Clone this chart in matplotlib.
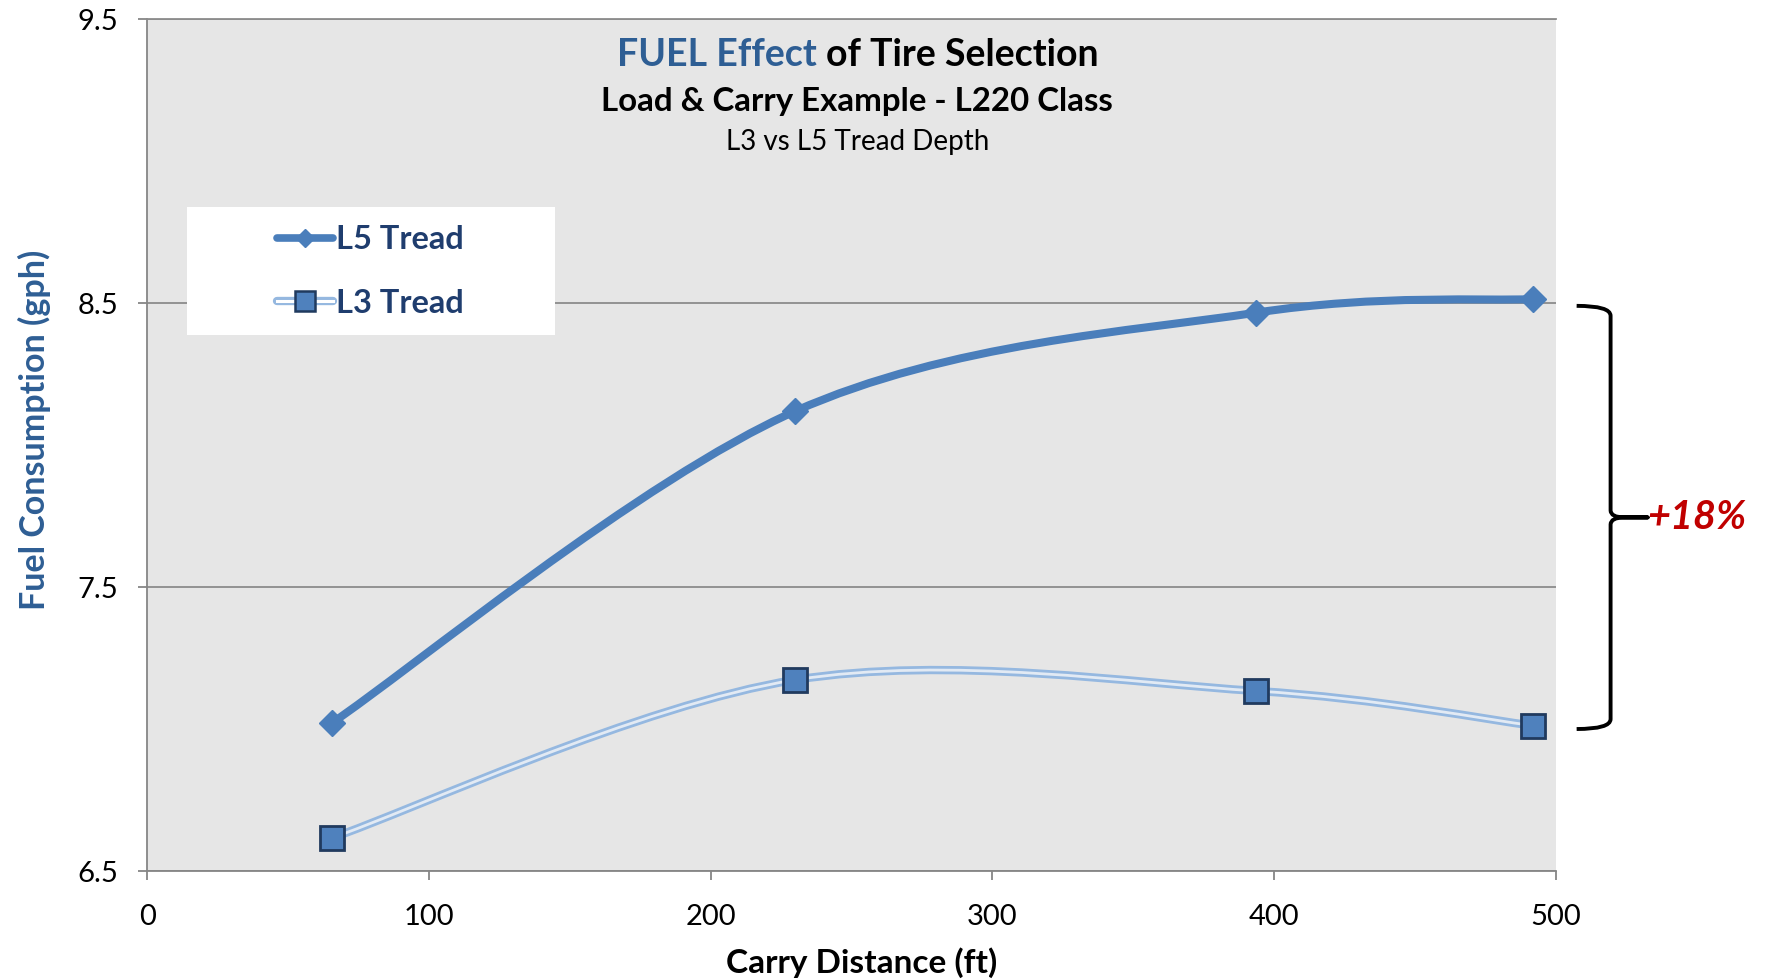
import matplotlib
matplotlib.use('Agg')
import matplotlib.pyplot as plt
import matplotlib.transforms as mtransforms
from matplotlib.path import Path
from matplotlib.patches import PathPatch, Rectangle
from matplotlib.lines import Line2D
from matplotlib.legend_handler import HandlerTuple

# values
distance = [65.7, 230.0, 393.7, 492.0]
l5_tread = [7.022, 8.119, 8.466, 8.514]
l3_tread = [6.617, 7.173, 7.134, 7.012]
series_names = ['L5 Tread', 'L3 Tread']
x_ticks = [0, 100, 200, 300, 400, 500]
y_ticks = [6.5, 7.5, 8.5, 9.5]
increase_label = '+18%'

plt.rcParams['font.family'] = ['Lato', 'DejaVu Sans']

BLUE = '#4A7EBB'
LIGHT = '#95B8E0'
INNER = '#E2EAF4'
SQUARE_EDGE = '#203A5E'
NAVY = '#1F3D6E'
TITLE_BLUE = '#2E5E94'
AXIS_GREY = '#868686'


def smooth_path(x, y):
    # excel style smoothed line (catmull-rom -> cubic bezier)
    pts = list(zip(x, y))
    n = len(pts)
    verts = [pts[0]]
    codes = [Path.MOVETO]
    for i in range(n - 1):
        p0 = pts[max(i - 1, 0)]
        p1 = pts[i]
        p2 = pts[i + 1]
        p3 = pts[min(i + 2, n - 1)]
        c1 = (p1[0] + (p2[0] - p0[0]) / 6, p1[1] + (p2[1] - p0[1]) / 6)
        c2 = (p2[0] - (p3[0] - p1[0]) / 6, p2[1] - (p3[1] - p1[1]) / 6)
        verts += [c1, c2, p2]
        codes += [Path.CURVE4] * 3
    return Path(verts, codes)


fig = plt.figure(figsize=(17.7, 9.8), dpi=100)
ax = fig.add_axes([0.0831, 0.1112, 0.7958, 0.8694])
ax.set_facecolor('#E6E6E6')

# L5: thick solid smoothed line with diamonds
ax.add_patch(PathPatch(smooth_path(distance, l5_tread), fill=False, edgecolor=BLUE,
                       lw=5.8, capstyle='round', joinstyle='round', zorder=2))
ax.plot(distance, l5_tread, ls='none', marker='D', ms=13, color=BLUE, mec=BLUE, zorder=3)

# L3: double line with squares
ax.add_patch(PathPatch(smooth_path(distance, l3_tread), fill=False, edgecolor=LIGHT,
                       lw=6, capstyle='round', zorder=2))
ax.add_patch(PathPatch(smooth_path(distance, l3_tread), fill=False, edgecolor=INNER,
                       lw=2, capstyle='round', zorder=2))
ax.plot(distance, l3_tread, ls='none', marker='s', ms=17, mfc='#4F81BD', mec=SQUARE_EDGE,
        mew=2, zorder=3)

ax.set_xlim(0, 500)
ax.set_ylim(6.5, 9.5)
ax.set_xticks(x_ticks)
ax.set_yticks(y_ticks)
ax.set_yticklabels(['%.1f' % v for v in y_ticks])
ax.yaxis.grid(True, color='#8C8C8C', lw=1.3)
ax.set_axisbelow(True)
for side in ['left', 'bottom', 'top']:
    ax.spines[side].set_color(AXIS_GREY)
    ax.spines[side].set_linewidth(1.3)
ax.spines['top'].set_color('#8C8C8C')
ax.spines['right'].set_visible(False)
ax.tick_params(axis='both', direction='out', length=6.5, width=1.3, color=AXIS_GREY,
               labelsize=21, labelcolor='black')
ax.tick_params(axis='x', pad=17)
ax.tick_params(axis='y', pad=14)

# legend on a white box
ax.add_patch(Rectangle((0.0284, 0.629), 0.2613, 0.1503, transform=ax.transAxes,
                       facecolor='white', edgecolor='none', zorder=5))
h5 = Line2D([], [], color=BLUE, lw=5.5, marker='D', ms=9, solid_capstyle='round')
h3 = (Line2D([], [], color=LIGHT, lw=6, solid_capstyle='round'),
      Line2D([], [], color='white', lw=2.2),
      Line2D([], [], ls='none', marker='s', ms=15, mfc='#4F81BD', mec=SQUARE_EDGE, mew=1.8))
leg = ax.legend([h5, h3], series_names, handler_map={tuple: HandlerTuple(ndivide=1)},
                loc='center left', bbox_to_anchor=(0.0923, 0.7036), frameon=False,
                borderpad=0, borderaxespad=0, handlelength=1.7, handletextpad=0.1,
                labelspacing=1.05, prop=dict(weight='bold', size=23.5), labelcolor=NAVY)
leg.set_zorder(6)

# brace between the end values
trans = mtransforms.blended_transform_factory(ax.transAxes, ax.transData)
top = l5_tread[-1] - 0.024
bot = l3_tread[-1] - 0.012
mid = (top + bot) / 2
xa, xv, xt = 1.0149, 1.039, 1.0653
c, c2 = 0.035, 0.025
verts = [(xa, top), (xv, top), (xv, top - c),
         (xv, mid + c2), (xv, mid), (xv + 0.01, mid), (xt, mid),
         (xv + 0.01, mid), (xv, mid), (xv, mid - c2),
         (xv, bot + c), (xv, bot), (xa, bot)]
codes = [Path.MOVETO, Path.CURVE3, Path.CURVE3,
         Path.LINETO, Path.CURVE3, Path.CURVE3, Path.LINETO,
         Path.LINETO, Path.CURVE3, Path.CURVE3,
         Path.LINETO, Path.CURVE3, Path.CURVE3]
ax.add_patch(PathPatch(Path(verts, codes), transform=trans, fill=False, edgecolor='black',
                       lw=2.8, clip_on=False, capstyle='butt', joinstyle='round'))
ax.text(xt, mid, increase_label, transform=trans, ha='left', va='center', color='#C00000',
        weight='bold', style='italic', size=28.5, clip_on=False)

# titles
W, H = 1770.0, 980.0
t1 = fig.text(0, 1 - 55 / H, 'FUEL Effect', color=TITLE_BLUE, weight='bold', size=27,
              ha='left', va='center')
t2 = fig.text(0, 1 - 55 / H, 'of Tire Selection', color='black', weight='bold', size=27,
              ha='left', va='center')
fig.text(857 / W, 1 - 101 / H, 'Load & Carry Example - L220 Class', weight='bold', size=23.8,
         ha='center', va='center')
fig.text(858 / W, 1 - 142 / H, 'L3 vs L5 Tread Depth', size=20, ha='center', va='center')

fig.canvas.draw()
r = fig.canvas.get_renderer()
w1 = t1.get_window_extent(r).width
w2 = t2.get_window_extent(r).width
gap = 9
x0 = 858 - (w1 + gap + w2) / 2
t1.set_x(x0 / W)
t2.set_x((x0 + w1 + gap) / W)

fig.text(34 / W, 1 - 430 / H, 'Fuel Consumption (gph)', rotation=90, color=TITLE_BLUE,
         weight='bold', size=24.5, ha='center', va='center')
fig.text(862 / W, 1 - 963 / H, 'Carry Distance (ft)', weight='bold', size=24,
         ha='center', va='center')

fig.savefig('out.png', dpi=100, facecolor='white')
